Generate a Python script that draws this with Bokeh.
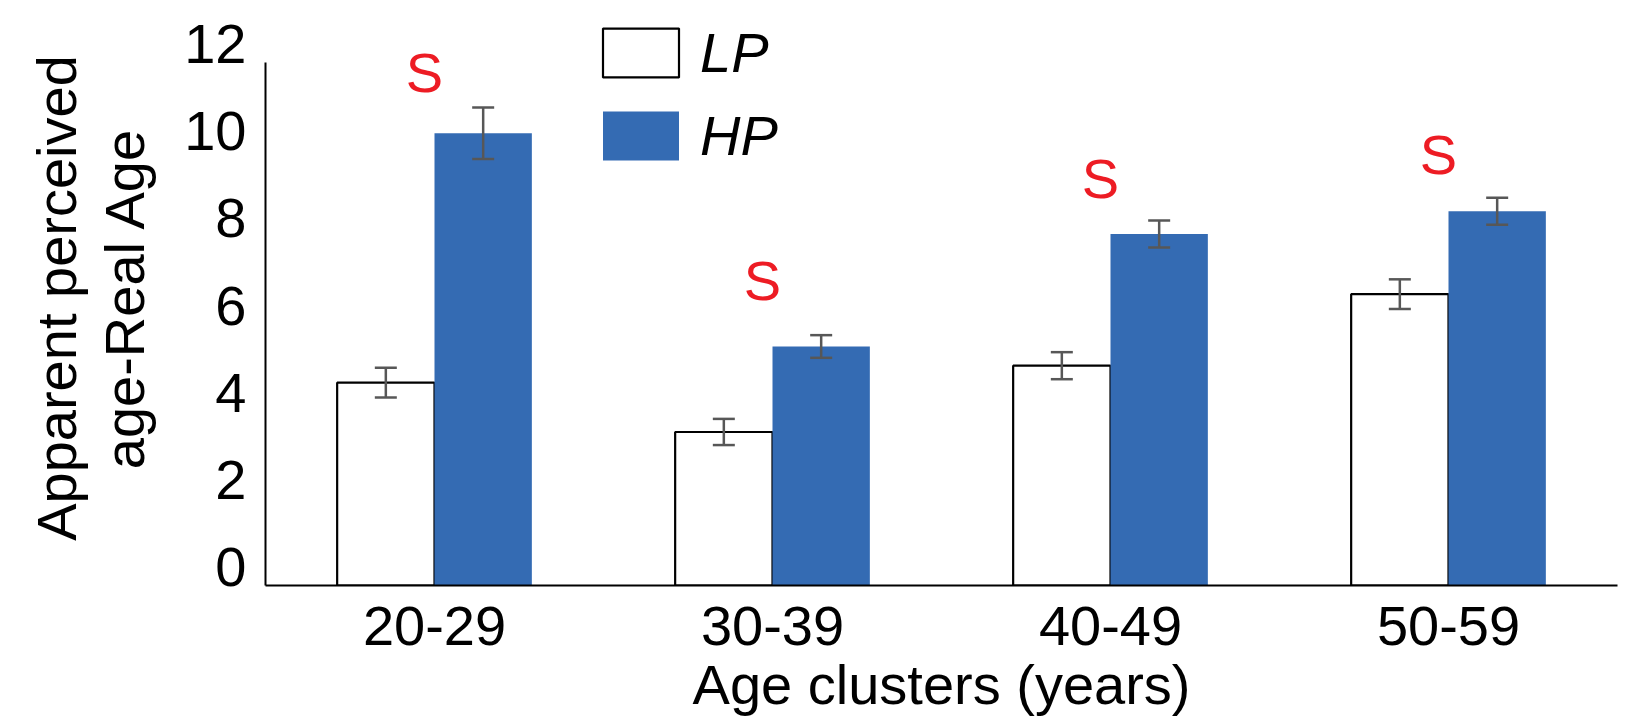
from bokeh.plotting import figure
from bokeh.models import (FactorRange, Range1d, LinearAxis, FixedTicker, Whisker,
                          ColumnDataSource, Legend, LegendItem, TeeHead)
from bokeh.transform import dodge
from bokeh.core.properties import value
from bokeh.embed import file_html
from bokeh.resources import INLINE

# ---- data ----
categories = ["20-29", "30-39", "40-49", "50-59"]
lp_values = [4.65, 3.52, 5.04, 6.68]
lp_errors = [0.34, 0.30, 0.31, 0.34]
hp_values = [10.37, 5.48, 8.06, 8.58]
hp_errors = [0.59, 0.26, 0.31, 0.31]
sig_labels = ["S", "S", "S", "S"]
sig_levels = [11.66, 6.89, 9.25, 9.80]
y_ticks = [0, 2, 4, 6, 8, 10, 12]
y_max = 12

FONT = "Liberation Sans"
FS = "56px"
BLUE = "#346BB3"
RED = "#ED1C24"
ERR = "#575757"

# layout constants (pixels)
PX_PER_UNIT = 43.69
Y_TOP = 576 / PX_PER_UNIT            # frame extends above the axis so the legend fits inside
LABEL_SHIFT = 18.3 / PX_PER_UNIT     # tick labels sit slightly above their ticks in the original

src = ColumnDataSource(dict(
    cat=categories,
    lp=lp_values, hp=hp_values,
    lp_up=[v + e for v, e in zip(lp_values, lp_errors)],
    lp_lo=[v - e for v, e in zip(lp_values, lp_errors)],
    hp_up=[v + e for v, e in zip(hp_values, hp_errors)],
    hp_lo=[v - e for v, e in zip(hp_values, hp_errors)],
    sig=sig_labels, sig_y=sig_levels,
))

p = figure(x_range=FactorRange(*categories, range_padding=0),
           y_range=Range1d(0, Y_TOP),
           width=1641, height=718,
           output_backend="svg", toolbar_location=None,
           y_axis_location=None,
           min_border_left=265, min_border_right=24,
           min_border_top=10, min_border_bottom=132)
p.outline_line_color = None
p.xgrid.grid_line_color = None
p.ygrid.grid_line_color = None
p.background_fill_color = "white"

W = 0.288
r_lp = p.vbar(x=dodge("cat", -W / 2, range=p.x_range), top="lp", width=W, source=src,
              fill_color="white", line_color="black", line_width=2.2)
r_hp = p.vbar(x=dodge("cat", W / 2, range=p.x_range), top="hp", width=W, source=src,
              fill_color=BLUE, line_color=None)

for off, up, lo in ((-W / 2, "lp_up", "lp_lo"), (W / 2, "hp_up", "hp_lo")):
    wk = Whisker(source=src, base=dodge("cat", off, range=p.x_range), upper=up, lower=lo,
                 line_color=ERR, line_width=2.5, level="overlay",
                 upper_head=TeeHead(size=22, line_color=ERR, line_width=2.5),
                 lower_head=TeeHead(size=22, line_color=ERR, line_width=2.5))
    p.add_layout(wk)

p.text(x="cat", y="sig_y", text="sig", source=src, x_offset=-10, y_offset=-4,
       text_align="center", text_baseline="middle", text_color=RED,
       text_font=value(FONT), text_font_size=FS)

# x axis
xa = p.xaxis[0]
xa.axis_line_color = "black"
xa.axis_line_width = 2
xa.major_tick_line_color = None
xa.major_tick_out = 0
xa.major_tick_in = 0
xa.minor_tick_line_color = None
xa.major_label_text_font = FONT
xa.major_label_text_font_size = FS
xa.major_label_text_color = "black"
xa.major_label_standoff = 21
xa.axis_label = "Age clusters (years)"
xa.axis_label_text_font = FONT
xa.axis_label_text_font_size = FS
xa.axis_label_text_font_style = "normal"
xa.axis_label_text_color = "black"
xa.axis_label_standoff = 5

# y axis line (0..12 only)
y_line = LinearAxis(ticker=FixedTicker(ticks=[]), bounds=(0, y_max))
y_line.axis_line_color = "black"
y_line.axis_line_width = 2
y_line.major_tick_out = 0
y_line.major_tick_in = 0
y_line.minor_tick_out = 0
y_line.minor_tick_in = 0
y_line.major_label_standoff = 0
p.add_layout(y_line, "left")

# y tick labels and title
p.extra_y_ranges = {"lab": Range1d(-LABEL_SHIFT, Y_TOP - LABEL_SHIFT)}
ya = LinearAxis(y_range_name="lab", ticker=FixedTicker(ticks=y_ticks))
ya.axis_line_color = None
ya.major_tick_line_color = None
ya.major_tick_out = 0
ya.major_tick_in = 0
ya.minor_tick_line_color = None
ya.minor_tick_out = 0
ya.major_label_text_font = FONT
ya.major_label_text_font_size = FS
ya.major_label_text_color = "black"
ya.major_label_standoff = 19
ya.axis_label = "Apparent perceived\nage-Real Age"
ya.axis_label_text_font = FONT
ya.axis_label_text_font_size = FS
ya.axis_label_text_font_style = "normal"
ya.axis_label_text_color = "black"
ya.axis_label_text_line_height = 1.075
ya.axis_label_standoff = 25
p.add_layout(ya, "left")

legend = Legend(items=[LegendItem(label="LP", renderers=[r_lp]),
                       LegendItem(label="HP", renderers=[r_hp])],
                location=(328, 417), orientation="vertical",
                glyph_width=95, glyph_height=61, label_standoff=12, spacing=18,
                padding=0, margin=0, border_line_color=None,
                background_fill_alpha=0,
                label_text_font=FONT, label_text_font_size=FS,
                label_text_font_style="italic", label_text_color="black")
p.add_layout(legend, "center")

open("out.html", "w").write(file_html(p, INLINE))
